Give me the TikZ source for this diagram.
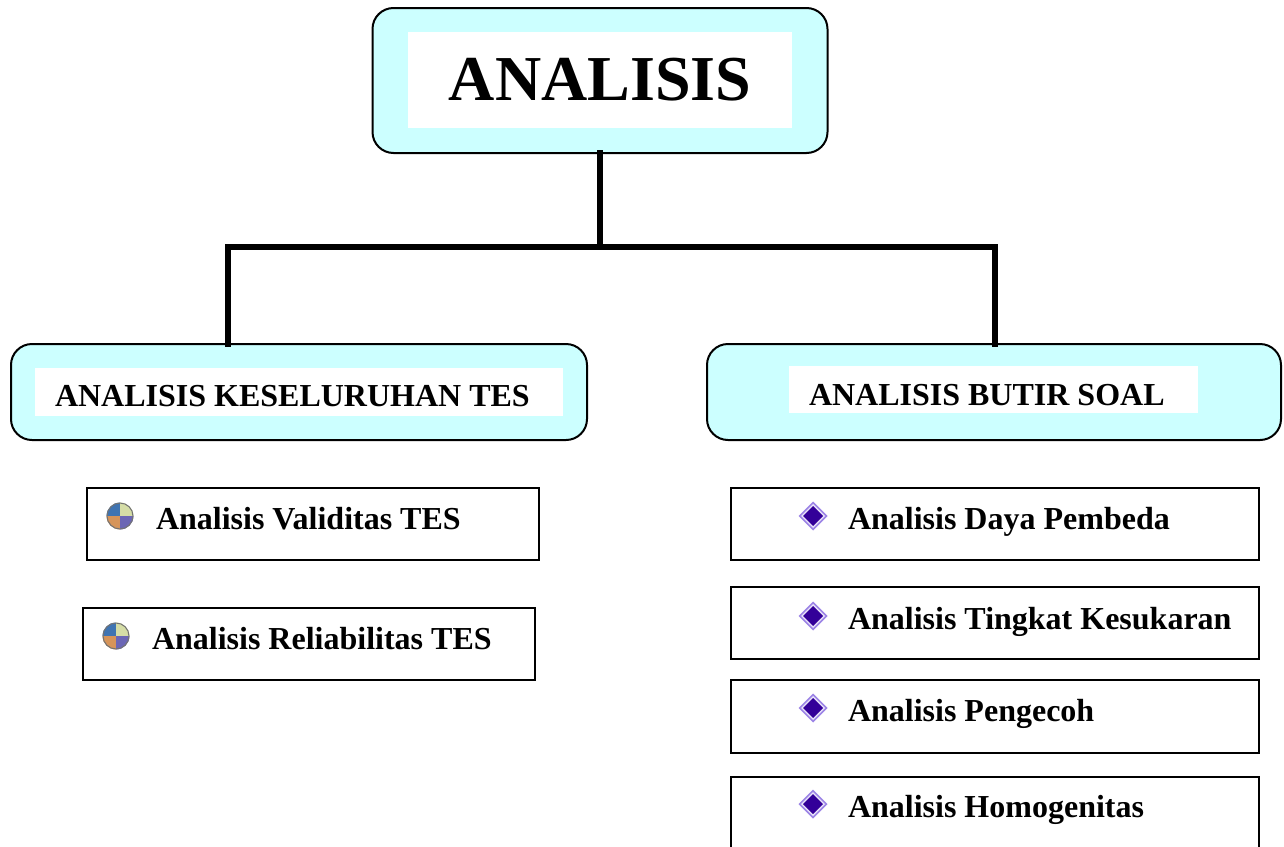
\documentclass[tikz,border=0pt]{standalone}
\usepackage{fontspec}
\setmainfont{Liberation Serif}
\definecolor{cyanfill}{HTML}{CCFFFF}
\definecolor{qblue}{HTML}{3F74B2}
\definecolor{qpale}{HTML}{D5DDA6}
\definecolor{qtan}{HTML}{D69459}
\definecolor{qviolet}{HTML}{6B66B5}
\definecolor{dlav}{HTML}{9C84E6}
\definecolor{dindigo}{HTML}{330099}
\tikzset{
  rbox/.style={draw=black, line width=2pt, fill=cyanfill, rounded corners=21pt, inner sep=0pt, outer sep=0pt},
  wbox/.style={fill=white, draw=none, inner sep=0pt, outer sep=0pt},
  pbox/.style={draw=black, line width=2pt, fill=white, inner sep=0pt, outer sep=0pt},
  txt/.style={anchor=base west, inner sep=0pt, outer sep=0pt, font=\fontsize{32}{38}\selectfont\bfseries},
  conn/.style={draw=black, line width=5.5pt, line cap=rect, line join=miter},
  quad/.pic={
    \begin{scope}
      \clip (0,0) circle (13.5);
      \fill[qblue] (0,0) rectangle (-14,-14);
      \fill[qpale] (0,0) rectangle (14,-14);
      \fill[qtan] (0,0) rectangle (-14,14);
      \fill[qviolet] (0,0) rectangle (14,14);
    \end{scope}
    \draw[black!55, line width=1pt] (0,0) circle (13);
  },
  dmd/.pic={
    \fill[dlav] (0,-14.5) -- (14.5,0) -- (0,14.5) -- (-14.5,0) -- cycle;
    \fill[white!80!dlav] (0,-12) -- (12,0) -- (0,12) -- (-12,0) -- cycle;
    \fill[dindigo] (0,-10) -- (10,0) -- (0,10) -- (-10,0) -- cycle;
  }
}
\begin{document}
\begin{tikzpicture}[x=1pt, y=-1pt]
\useasboundingbox (0,0) rectangle (1284,846);
\begin{scope}
\clip (0,0) rectangle (1284,846);

% top box
\node[rbox, minimum width=455pt, minimum height=145pt] (top) at (600,80.5) {};
\node[wbox, minimum width=384pt, minimum height=96pt] (topw) at (600,80) {};
\node[anchor=base, inner sep=0pt, font=\fontsize{64}{70}\selectfont\bfseries] (toptxt) at (600,100) {ANALISIS};

% middle boxes
\node[rbox, minimum width=576pt, minimum height=96pt] (L) at (299,392) {};
\node[wbox, minimum width=528pt, minimum height=48pt] (Lw) at (299,392) {};
\node[txt] (Ltxt) at (55,406) {ANALISIS KESELURUHAN TES};

\node[rbox, minimum width=574pt, minimum height=96pt] (R) at (994,392) {};
\node[wbox, minimum width=409pt, minimum height=47pt] (Rw) at (993.5,389.5) {};
\node[txt] (Rtxt) at (809,405) {ANALISIS BUTIR SOAL};

% connectors
\coordinate (jM) at (600,247);
\coordinate (jL) at (228,247);
\coordinate (jR) at (995,247);
\draw[conn] (top.south) -- (top.south |- jM);
\draw[conn] (jL |- L.north) -- (jL) -- (jR) -- (jR |- R.north);

% left items
\node[pbox, minimum width=452pt, minimum height=72pt] (L1) at (313,524) {};
\pic at (120,516) {quad};
\node[txt] (L1t) at (156,529) {Analisis Validitas TES};

\node[pbox, minimum width=452pt, minimum height=72pt] (L2) at (309,644) {};
\pic at (116,636) {quad};
\node[txt] (L2t) at (152,649) {Analisis Reliabilitas TES};

% right items
\node[pbox, minimum width=528pt, minimum height=72pt] (R1) at (995,524) {};
\pic at (813,516) {dmd};
\node[txt] (R1t) at (848,529) {Analisis Daya Pembeda};

\node[pbox, minimum width=528pt, minimum height=72pt] (R2) at (995,623) {};
\pic at (813,616) {dmd};
\node[txt] (R2t) at (848,629) {Analisis Tingkat Kesukaran};

\node[pbox, minimum width=528pt, minimum height=73pt] (R3) at (995,716.5) {};
\pic at (813,708) {dmd};
\node[txt] (R3t) at (848,721) {Analisis Pengecoh};

\node[pbox, minimum width=528pt, minimum height=74pt] (R4) at (995,814) {};
\pic at (813,804) {dmd};
\node[txt] (R4t) at (848,817) {Analisis Homogenitas};
\end{scope}
\end{tikzpicture}
\end{document}
